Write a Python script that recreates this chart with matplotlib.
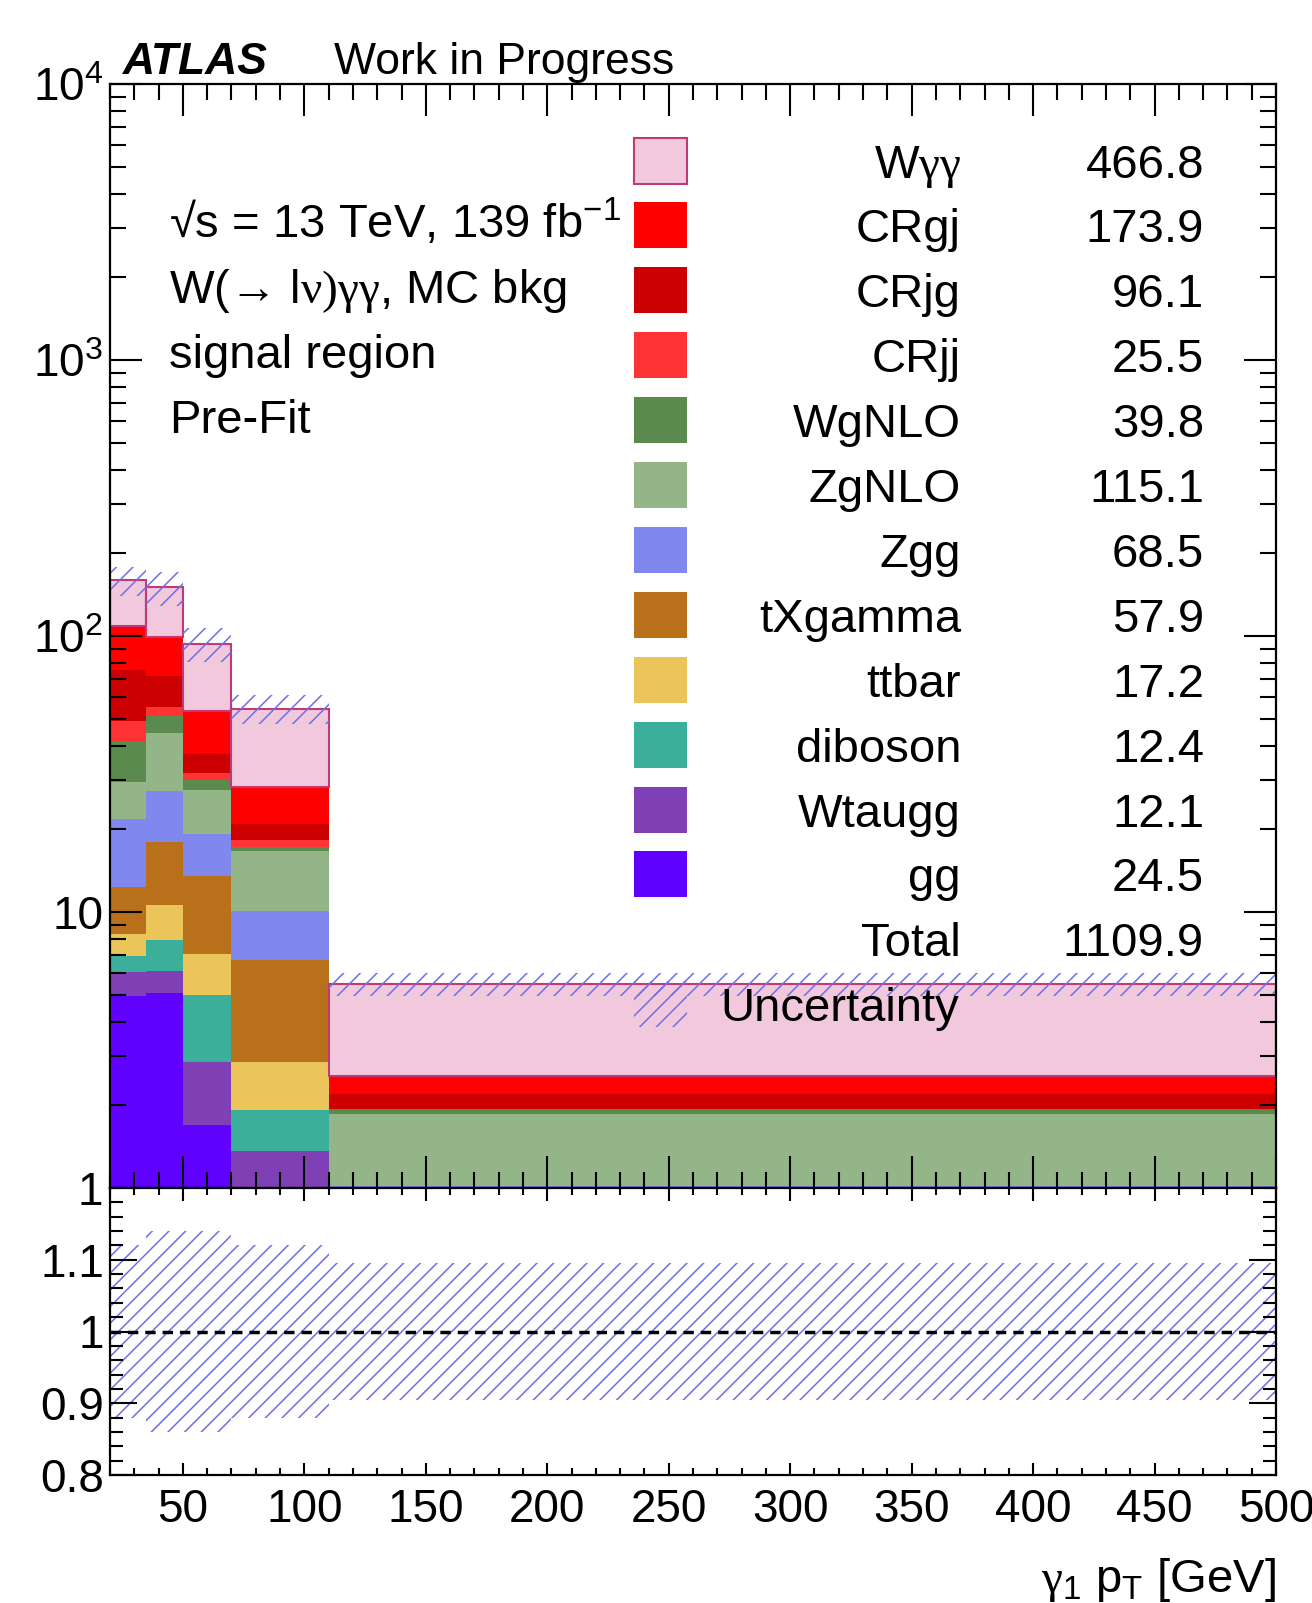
import numpy as np
import matplotlib
matplotlib.use("Agg")
import matplotlib.pyplot as plt
from matplotlib.patches import Rectangle
from matplotlib.ticker import MultipleLocator, LogLocator, NullFormatter, FixedLocator

plt.rcParams['font.family'] = ['Liberation Sans', 'DejaVu Sans']
plt.rcParams['mathtext.default'] = 'regular'
plt.rcParams['mathtext.fontset'] = 'custom'
plt.rcParams['mathtext.rm'] = 'Liberation Serif'
plt.rcParams['hatch.linewidth'] = 1.1

# photon pT bin edges [GeV]
edges = [20, 35, 50, 70, 110, 500]

# per-bin yields, stack order bottom -> top
gg      = [4.97, 5.08, 1.69, 0.50, 0.10]
wtaugg  = [1.07, 1.04, 1.17, 0.86, 0.08]
diboson = [0.90, 1.79, 2.15, 0.56, 0.05]
ttbar   = [1.36, 2.69, 2.03, 0.93, 0.09]
txgamma = [4.00, 7.30, 6.46, 3.85, 0.32]
zgg     = [9.40, 9.60, 5.70, 3.40, 0.38]
zgnlo   = [7.80, 16.9, 8.50, 6.60, 0.83]
wgnlo   = [12.3, 7.10, 2.40, 0.50, 0.06]
crjj    = [7.50, 3.70, 1.70, 1.00, 0.03]
crjg    = [25.7, 16.6, 5.60, 2.70, 0.25]
crgj    = [34.0, 27.1, 16.2, 7.40, 0.35]
wyy     = [50.0, 51.0, 40.0, 26.1, 2.94]

# relative total uncertainty per bin
rel_unc_up = [0.12, 0.14, 0.14, 0.12, 0.095]
rel_unc_dn = [0.12, 0.14, 0.14, 0.12, 0.095]

# legend (top -> bottom)
leg_names = [r'W$\mathrm{\gamma\gamma}$', 'CRgj', 'CRjg', 'CRjj', 'WgNLO', 'ZgNLO', 'Zgg',
             'tXgamma', 'ttbar', 'diboson', 'Wtaugg', 'gg']
leg_yields = ['466.8', '173.9', '96.1', '25.5', '39.8', '115.1', '68.5',
              '57.9', '17.2', '12.4', '12.1', '24.5']
total_yield = '1109.9'

stack = [gg, wtaugg, diboson, ttbar, txgamma, zgg, zgnlo, wgnlo, crjj, crjg, crgj, wyy]
colors = ['#6000ff', '#7f3fb5', '#3caf9a', '#ecc55a', '#b8701a', '#8088ee',
          '#93b588', '#5b8a4e', '#ff3333', '#cc0000', '#ff0000', '#f2c9dc']
wyy_edge = '#c03a78'
hatch_col = '#6f6fe6'

W, H = 1312, 1603
def fx(px):
    return px / W
def fy(py):
    return 1 - py / H

fig = plt.figure(figsize=(W / 100, H / 100), dpi=100)
ax = fig.add_axes([fx(110), fy(1188), (1276 - 110) / W, (1188 - 84) / H])
rax = fig.add_axes([fx(110), fy(1475), (1276 - 110) / W, (1475 - 1188) / H])

x0 = np.array(edges[:-1], dtype=float)
widths = np.diff(edges)

bottom = np.zeros(len(x0))
for vals, col in zip(stack, colors):
    vals = np.array(vals)
    if col == colors[-1]:
        ax.bar(x0, vals, width=widths, bottom=bottom, align='edge', color=col,
               edgecolor=wyy_edge, linewidth=1.5)
    else:
        ax.bar(x0, vals, width=widths, bottom=bottom, align='edge', color=col, linewidth=0)
    bottom = bottom + vals
total = bottom

up = total * (1 + np.array(rel_unc_up))
dn = total * (1 - np.array(rel_unc_dn))
ax.bar(x0, up - dn, width=widths, bottom=dn, align='edge', fill=False,
       hatch='//', edgecolor=hatch_col, linewidth=0)

ax.set_yscale('log')
ax.set_ylim(1, 1e4)
ax.set_xlim(edges[0], edges[-1])

# ratio panel
rlo = 1 - np.array(rel_unc_dn)
rhi = 1 + np.array(rel_unc_up)
rax.bar(x0, rhi - rlo, width=widths, bottom=rlo, align='edge', fill=False,
        hatch='//', edgecolor=hatch_col, linewidth=0)
rax.axhline(1.0, color='black', lw=2.5, ls=(0, (3, 2)))
rax.set_xlim(edges[0], edges[-1])
rax.set_ylim(0.8, 1.2)

# ticks
for a in (ax, rax):
    for s in a.spines.values():
        s.set_linewidth(1.6)
    a.xaxis.set_major_locator(MultipleLocator(50))
    a.xaxis.set_minor_locator(MultipleLocator(10))

ax.yaxis.set_major_locator(FixedLocator([1, 10, 100, 1000, 10000]))
ax.yaxis.set_minor_locator(LogLocator(base=10, subs=np.arange(2, 10), numticks=20))
ax.yaxis.set_minor_formatter(NullFormatter())
ax.set_yticklabels(['1', '10', '$10^{2}$', '$10^{3}$', '$10^{4}$'])
ax.tick_params(which='major', direction='in', top=True, right=True, length=23, width=1.5,
               labelsize=33, pad=5, labelbottom=False)
ax.tick_params(which='minor', direction='in', top=True, right=True, length=11.5, width=1.5)

rax.yaxis.set_major_locator(FixedLocator([0.8, 0.9, 1.0, 1.1]))
rax.yaxis.set_minor_locator(MultipleLocator(0.02))
rax.set_yticklabels(['0.8', '0.9', '1', '1.1'])
rax.set_xticks([50, 100, 150, 200, 250, 300, 350, 400, 450, 500])
rax.tick_params(axis='y', which='major', direction='in', right=True, length=19.5, width=1.5,
                labelsize=33, pad=4)
rax.tick_params(axis='y', which='minor', direction='in', right=True, length=9.5, width=1.5)
rax.tick_params(axis='x', which='major', direction='in', top=True, length=9, width=1.5,
                labelsize=33, pad=9)
rax.tick_params(axis='x', which='minor', direction='in', top=True, length=5, width=1.5)

# header
fig.text(fx(123), fy(74), 'ATLAS', fontsize=32, fontweight='bold', fontstyle='italic',
         ha='left', va='baseline')
fig.text(fx(334), fy(74), 'Work in Progress', fontsize=32, ha='left', va='baseline')

info = ['\u221as = 13 TeV, 139 fb$^{-1}$', 'W($\\mathrm{\u2192}$ l$\\mathrm{\\nu)\\gamma\\gamma}$, MC bkg',
        'signal region', 'Pre-Fit']
for i, t in enumerate(info):
    fig.text(fx(169), fy(238 + 65 * i), t, fontsize=34, ha='left', va='baseline')

# legend
row0, step = 160.5, 64.9
for i, (name, yld) in enumerate(zip(leg_names, leg_yields)):
    yc = row0 + step * i
    col = colors[::-1][i]
    ec = wyy_edge if i == 0 else col
    fig.add_artist(Rectangle((fx(634), fy(yc + 23)), 53 / W, 46 / H, transform=fig.transFigure,
                             facecolor=col, edgecolor=ec, linewidth=1.5 if i == 0 else 0))
    fig.text(fx(961), fy(yc + 17), name, fontsize=34, ha='right', va='baseline')
    fig.text(fx(1204), fy(yc + 17), yld, fontsize=34, ha='right', va='baseline')

yc = row0 + step * 12
fig.text(fx(961), fy(yc + 17), 'Total', fontsize=34, ha='right', va='baseline')
fig.text(fx(1204), fy(yc + 17), total_yield, fontsize=34, ha='right', va='baseline')

yc = row0 + step * 13
fig.add_artist(Rectangle((fx(634), fy(yc + 23)), 53 / W, 46 / H, transform=fig.transFigure,
                         fill=False, hatch='//', edgecolor=hatch_col, linewidth=0))
fig.text(fx(959), fy(yc + 17), 'Uncertainty', fontsize=34, ha='right', va='baseline')

# x-axis title
fig.text(fx(1276), fy(1592), r'$\mathrm{\gamma}_{1}$ p$_{T}$ [GeV]', fontsize=34,
         ha='right', va='baseline')

fig.savefig('out.png', dpi=100)
